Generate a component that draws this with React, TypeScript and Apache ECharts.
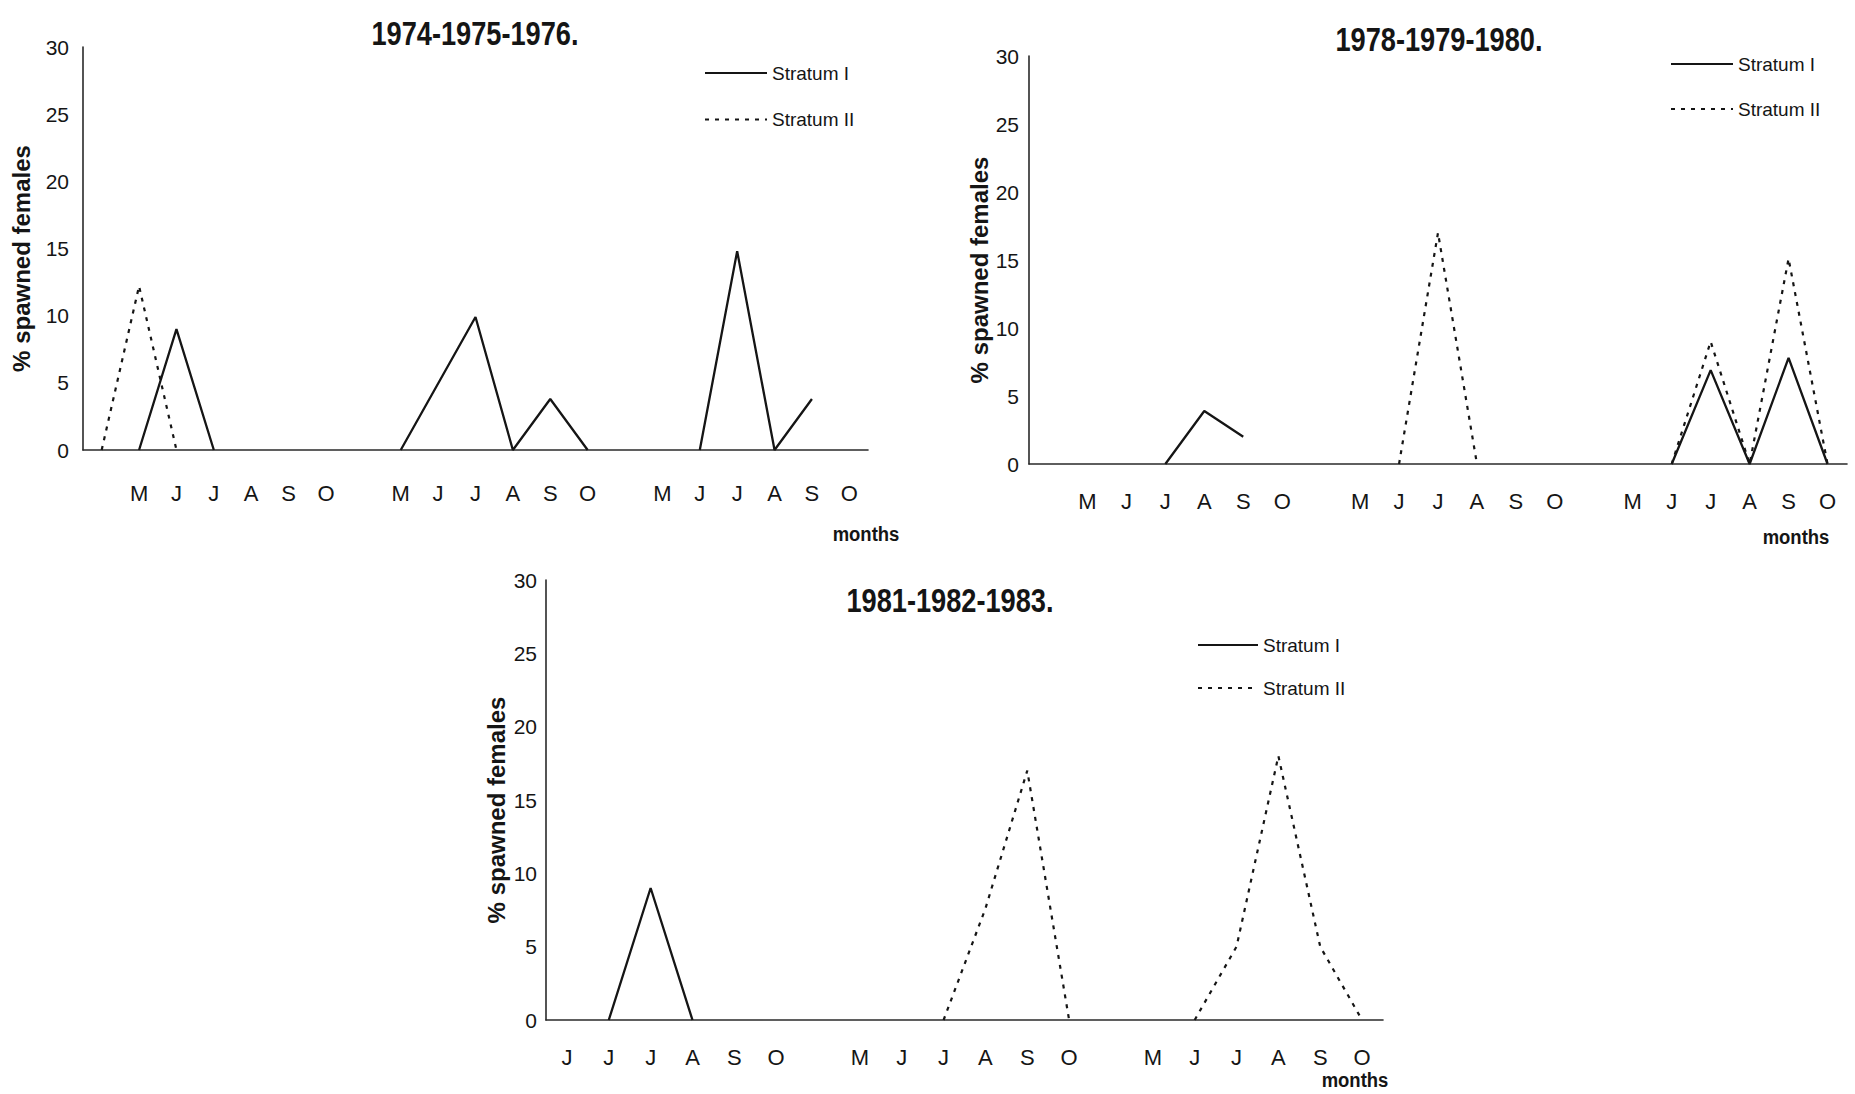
import React, { useEffect, useRef } from "react";
import * as echarts from "echarts";

// ---------- data ----------
const panel1Months = ["", "M", "J", "J", "A", "S", "O", "", "M", "J", "J", "A", "S", "O", "", "M", "J", "J", "A", "S", "O"];
const panel2Months = ["", "M", "J", "J", "A", "S", "O", "", "M", "J", "J", "A", "S", "O", "", "M", "J", "J", "A", "S", "O"];
const panel3Months = ["J", "J", "J", "A", "S", "O", "", "M", "J", "J", "A", "S", "O", "", "M", "J", "J", "A", "S", "O"];

// segments of [month slot index, % spawned females]
const p1StratumI = [
  [[1, 0], [2, 9], [3, 0]],
  [[8, 0], [10, 9.9], [11, 0], [12, 3.8], [13, 0]],
  [[16, 0], [17, 14.8], [18, 0], [19, 3.8]],
];
const p1StratumII = [[[0, 0], [1, 12.2], [2, 0]]];

const p2StratumI = [
  [[3, 0], [4, 3.9], [5, 2]],
  [[16, 0], [17, 6.9], [18, 0], [19, 7.8], [20, 0]],
];
const p2StratumII = [
  [[9, 0], [10, 17], [11, 0]],
  [[16, 0], [17, 9], [18, 0], [19, 15.1], [20, 0]],
];

const p3StratumI = [[[1, 0], [2, 9], [3, 0]]];
const p3StratumII = [
  [[9, 0], [10, 7.6], [11, 17], [12, 0]],
  [[15, 0], [16, 5], [17, 18], [18, 5], [19, 0]],
];

const panelTitles = ["1974-1975-1976.", "1978-1979-1980.", "1981-1982-1983."];
const seriesNames = ["Stratum I", "Stratum II"];
const yAxisName = "% spawned females";
const xAxisName = "months";
const yMin = 0;
const yMax = 30;
const yStep = 5;

// ---------- layout ----------
const FONT = "'Liberation Sans', Arial, Helvetica, sans-serif";
const INK = "#151515";

const panels = [
  {
    months: panel1Months,
    s1: p1StratumI,
    s2: p1StratumII,
    grid: { left: 83, top: 47, width: 785, height: 403 },
    xMargin: 32,
    yMargin: 14,
    nameGap: 50,
    legend: { left: 704, top: 63, itemWidth: 62, itemGap: 26.5 },
    title: { x: 475, y: 33 },
    monthsPos: { x: 866, y: 534 },
  },
  {
    months: panel2Months,
    s1: p2StratumI,
    s2: p2StratumII,
    grid: { left: 1029, top: 56, width: 818, height: 408 },
    xMargin: 26,
    yMargin: 10,
    nameGap: 35,
    legend: { left: 1670, top: 54, itemWidth: 62, itemGap: 25 },
    title: { x: 1439, y: 39 },
    monthsPos: { x: 1796, y: 537 },
  },
  {
    months: panel3Months,
    s1: p3StratumI,
    s2: p3StratumII,
    grid: { left: 546, top: 580, width: 837, height: 440 },
    xMargin: 26,
    yMargin: 9,
    nameGap: 38,
    legend: { left: 1197, top: 635, itemWidth: 60, itemGap: 23 },
    title: { x: 950, y: 600 },
    monthsPos: { x: 1355, y: 1080 },
  },
];

export default function App() {
  const ref = useRef<HTMLDivElement>(null);

  useEffect(() => {
    if (!ref.current) return;
    const chart = echarts.init(ref.current, undefined, { renderer: "svg" });

    const grid: any[] = [];
    const xAxis: any[] = [];
    const yAxis: any[] = [];
    const series: any[] = [];
    const legend: any[] = [];
    const graphic: any[] = [];

    panels.forEach((p, i) => {
      grid.push({ ...p.grid, containLabel: false });
      xAxis.push({
        type: "category",
        gridIndex: i,
        data: p.months,
        boundaryGap: true,
        axisLine: { show: true, lineStyle: { color: "#2a2a2a", width: 1.6 } },
        axisTick: { show: false },
        splitLine: { show: false },
        axisLabel: {
          interval: 0,
          fontSize: 22,
          color: INK,
          fontFamily: FONT,
          margin: p.xMargin,
        },
      });
      yAxis.push({
        type: "value",
        gridIndex: i,
        min: yMin,
        max: yMax,
        interval: yStep,
        axisLine: { show: true, lineStyle: { color: "#2a2a2a", width: 1.6 } },
        axisTick: { show: false },
        splitLine: { show: false },
        axisLabel: { fontSize: 21, color: INK, fontFamily: FONT, margin: p.yMargin },
        name: yAxisName,
        nameLocation: "middle",
        nameRotate: 90,
        nameGap: p.nameGap,
        nameTextStyle: {
          fontSize: 24,
          fontWeight: "bold",
          color: INK,
          fontFamily: FONT,
          padding: [0, 20, 0, 0],
        },
      });
      p.s1.forEach((seg) => {
        series.push({
          type: "line",
          name: seriesNames[0],
          xAxisIndex: i,
          yAxisIndex: i,
          data: seg,
          symbol: "none",
          silent: true,
          itemStyle: { color: INK },
          lineStyle: { color: INK, width: 2.3, type: "solid" },
        });
      });
      p.s2.forEach((seg) => {
        series.push({
          type: "line",
          name: seriesNames[1],
          xAxisIndex: i,
          yAxisIndex: i,
          data: seg,
          symbol: "none",
          silent: true,
          itemStyle: { color: INK },
          lineStyle: { color: INK, width: 2.2, type: [4, 6] },
        });
      });
      legend.push({
        data: seriesNames,
        orient: "vertical",
        left: p.legend.left,
        top: p.legend.top,
        itemWidth: p.legend.itemWidth,
        itemHeight: 20,
        itemGap: p.legend.itemGap,
        selectedMode: false,
        padding: 0,
        itemStyle: { color: "rgba(0,0,0,0)", borderWidth: 0, opacity: 0 },
        textStyle: { fontSize: 19, color: INK, fontFamily: FONT, lineHeight: 20 },
      });
      graphic.push({
        type: "text",
        x: p.title.x,
        y: p.title.y,
        scaleX: 0.8,
        silent: true,
        style: {
          text: panelTitles[i],
          font: `bold 34px ${FONT}`,
          fill: INK,
          textAlign: "center",
          textVerticalAlign: "middle",
        },
      });
      graphic.push({
        type: "text",
        x: p.monthsPos.x,
        y: p.monthsPos.y,
        scaleX: 0.88,
        silent: true,
        style: {
          text: xAxisName,
          font: `bold 21px ${FONT}`,
          fill: INK,
          textAlign: "center",
          textVerticalAlign: "middle",
        },
      });
    });

    chart.setOption({
      animation: false,
      backgroundColor: "#ffffff",
      grid,
      xAxis,
      yAxis,
      series,
      legend,
      graphic,
    });

    return () => chart.dispose();
  }, []);

  return (
    <div
      ref={ref}
      style={{ position: "absolute", left: 0, top: 0, width: 1855, height: 1094, background: "#fff" }}
    />
  );
}
